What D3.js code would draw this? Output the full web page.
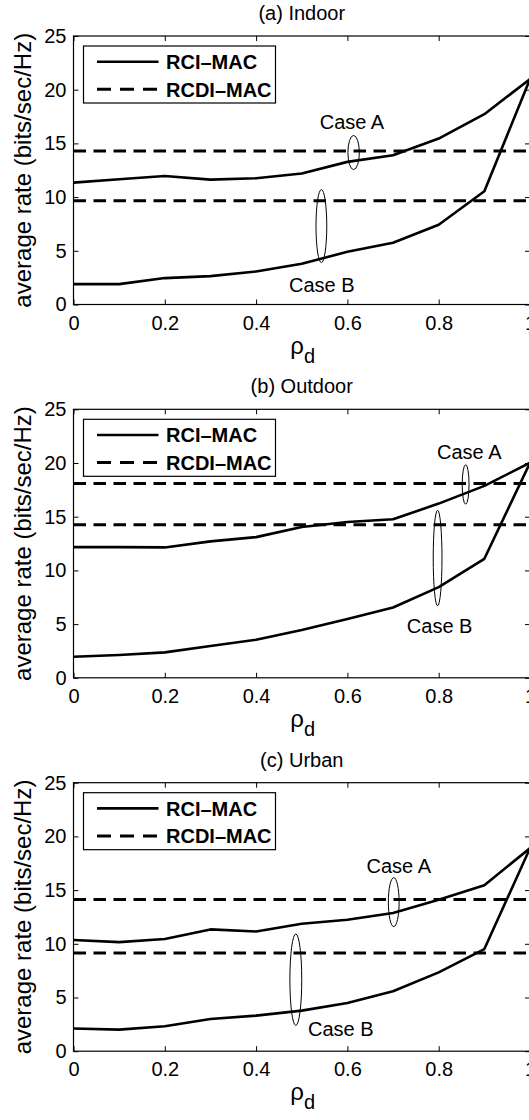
<!DOCTYPE html>
<html>
<head>
<meta charset="utf-8">
<script src="https://cdn.jsdelivr.net/npm/d3@7"></script>
<style>
  html, body { margin: 0; padding: 0; background: #fff; }
  svg { display: block; }
  text { font-family: "Liberation Sans", Arial, sans-serif; fill: #000; }
</style>
</head>
<body>
<div id="chart"></div>
<script>
// ---------------- data ----------------
const rho = [0, 0.1, 0.2, 0.3, 0.4, 0.5, 0.6, 0.7, 0.8, 0.9, 1.0];

const panelTitles = ["(a) Indoor", "(b) Outdoor", "(c) Urban"];

// RCI-MAC (solid), Case A and Case B, per panel
const indoorRciA  = [11.35, 11.66, 11.97, 11.63, 11.75, 12.19, 13.28, 13.90, 15.45, 17.72, 20.99];
const indoorRciB  = [1.90, 1.90, 2.46, 2.64, 3.08, 3.79, 4.91, 5.75, 7.43, 10.54, 20.99];
const outdoorRciA = [12.17, 12.17, 12.14, 12.70, 13.10, 14.04, 14.50, 14.76, 16.22, 17.87, 20.02];
const outdoorRciB = [1.96, 2.12, 2.37, 2.96, 3.55, 4.45, 5.48, 6.54, 8.44, 11.08, 20.02];
const urbanRciA   = [10.35, 10.16, 10.44, 11.34, 11.15, 11.87, 12.24, 12.86, 14.10, 15.46, 18.90];
const urbanRciB   = [2.11, 2.01, 2.32, 3.00, 3.31, 3.78, 4.49, 5.58, 7.34, 9.51, 18.90];

// RCDI-MAC (dashed, constant) Case A and Case B per panel
const indoorRcdi  = [14.30, 9.67];
const outdoorRcdi = [18.09, 14.26];
const urbanRcdi   = [14.13, 9.14];

// annotation ellipses: [x center, y center, x half-width, y half-height] in data units
const indoorEllipses  = [[0.6136, 14.15, 0.0125, 1.59], [0.543, 7.30, 0.0118, 3.40]];
const outdoorEllipses = [[0.859, 18.00, 0.0075, 1.84], [0.7976, 11.15, 0.0096, 4.45]];
const urbanEllipses   = [[0.7015, 13.88, 0.0118, 2.28], [0.487, 6.66, 0.0130, 4.26]];

// annotation labels: [text, x center, y center] in data units
const indoorLabels  = [["Case A", 0.610, 16.95], ["Case B", 0.544, 1.80]];
const outdoorLabels = [["Case A", 0.867, 20.98], ["Case B", 0.802, 4.79]];
const urbanLabels   = [["Case A", 0.7126, 17.29], ["Case B", 0.5855, 2.10]];

const xTickValues = [0, 0.2, 0.4, 0.6, 0.8, 1];
const xTickLabels = ["0", "0.2", "0.4", "0.6", "0.8", "1"];
const yTickValues = [0, 5, 10, 15, 20, 25];
const yTickLabels = ["0", "5", "10", "15", "20", "25"];

const legendNames = ["RCI\u2013MAC", "RCDI\u2013MAC"];
const yAxisLabel = "average rate (bits/sec/Hz)";

// ---------------- layout ----------------
const W = 529, H = 1120;
const panelTops = [36, 409.3, 782.7];
const plotH = 268.5;
const plotL = 73.5, plotR = 530;

const panels = [
  { title: panelTitles[0], a: indoorRciA,  b: indoorRciB,  rcdi: indoorRcdi,  ell: indoorEllipses,  lab: indoorLabels },
  { title: panelTitles[1], a: outdoorRciA, b: outdoorRciB, rcdi: outdoorRcdi, ell: outdoorEllipses, lab: outdoorLabels },
  { title: panelTitles[2], a: urbanRciA,   b: urbanRciB,   rcdi: urbanRcdi,   ell: urbanEllipses,   lab: urbanLabels }
];

const svg = d3.select("#chart").append("svg")
  .attr("width", W).attr("height", H);

const x = d3.scaleLinear().domain([0, 1]).range([plotL, plotR]);

const FONT = 20;
const DASH = "12.5,7.5";

panels.forEach((p, i) => {
  const top = panelTops[i], bottom = top + plotH;
  const y = d3.scaleLinear().domain([0, 25]).range([bottom, top]);
  const g = svg.append("g");

  // title
  g.append("text")
    .attr("x", (plotL + plotR) / 2)
    .attr("y", top - 16)
    .attr("text-anchor", "middle")
    .style("font-size", FONT + "px")
    .text(p.title);

  // clip
  const clipId = "clip" + i;
  svg.append("clipPath").attr("id", clipId)
    .append("rect").attr("x", plotL).attr("y", top).attr("width", plotR - plotL).attr("height", plotH);

  const line = d3.line().x((d, k) => x(rho[k])).y(d => y(d));

  const plotG = g.append("g").attr("clip-path", `url(#${clipId})`);

  // dashed RCDI lines
  p.rcdi.forEach(v => {
    plotG.append("path")
      .attr("d", d3.line()([[x(0), y(v)], [x(1), y(v)]]))
      .attr("fill", "none").attr("stroke", "#000")
      .attr("stroke-width", 3).attr("stroke-dasharray", DASH);
  });

  // solid RCI lines
  [p.a, p.b].forEach(series => {
    plotG.append("path")
      .attr("d", line(series))
      .attr("fill", "none").attr("stroke", "#000")
      .attr("stroke-width", 2.6).attr("stroke-linejoin", "round");
  });

  // ellipses
  p.ell.forEach(e => {
    g.append("ellipse")
      .attr("cx", x(e[0])).attr("cy", y(e[1]))
      .attr("rx", x(e[2]) - x(0)).attr("ry", y(0) - y(e[3]))
      .attr("fill", "none").attr("stroke", "#000").attr("stroke-width", 1);
  });

  // case labels
  p.lab.forEach(l => {
    g.append("text")
      .attr("x", x(l[1])).attr("y", y(l[2]) + 7)
      .attr("text-anchor", "middle")
      .style("font-size", FONT + "px")
      .text(l[0]);
  });

  // axes (inward ticks)
  const axB = d3.axisBottom(x).tickValues(xTickValues)
    .tickFormat((d, k) => xTickLabels[k]).tickSizeInner(-5).tickSizeOuter(0).tickPadding(11);
  const axT = d3.axisTop(x).tickValues(xTickValues).tickFormat("").tickSizeInner(-5).tickSizeOuter(0);
  const axL = d3.axisLeft(y).tickValues(yTickValues)
    .tickFormat((d, k) => yTickLabels[k]).tickSizeInner(-5).tickSizeOuter(0).tickPadding(7);
  const axR = d3.axisRight(y).tickValues(yTickValues).tickFormat("").tickSizeInner(-5).tickSizeOuter(0);

  const gb = g.append("g").attr("transform", `translate(0,${bottom})`).call(axB);
  const gt = g.append("g").attr("transform", `translate(0,${top})`).call(axT);
  const gl = g.append("g").attr("transform", `translate(${plotL},0)`).call(axL);
  const gr = g.append("g").attr("transform", `translate(${plotR},0)`).call(axR);
  [gb, gt, gl, gr].forEach(a => {
    a.select(".domain").remove();
    a.selectAll("line").attr("stroke", "#000").attr("stroke-width", 1);
    a.selectAll("text").style("font-size", FONT + "px")
      .attr("font-family", null).style("font-family", '"Liberation Sans", Arial, sans-serif').attr("fill", "#000");
  });

  // box
  g.append("rect")
    .attr("x", plotL).attr("y", top).attr("width", plotR - plotL).attr("height", plotH)
    .attr("fill", "none").attr("stroke", "#000").attr("stroke-width", 1.2);

  // y label
  g.append("text")
    .attr("transform", `translate(31,${(top + bottom) / 2}) rotate(-90)`)
    .attr("text-anchor", "middle")
    .style("font-size", "24px")
    .text(yAxisLabel);

  // x label rho_d
  const xl = g.append("text")
    .attr("x", (plotL + plotR) / 2 + 1)
    .attr("y", bottom + 49)
    .attr("text-anchor", "middle")
    .style("font-size", "24px");
  xl.append("tspan").text("\u03C1");
  xl.append("tspan").attr("dy", 9).style("font-size", "20px").text("d");

  // legend
  const lx = plotL + 10, ly = top + 10, lw = 192, lh = 57;
  const lg = g.append("g");
  lg.append("rect").attr("x", lx).attr("y", ly).attr("width", lw).attr("height", lh)
    .attr("fill", "#fff").attr("stroke", "#000").attr("stroke-width", 1.2);
  legendNames.forEach((name, k) => {
    const rowY = ly + 15.7 + k * 27.6;
    lg.append("line")
      .attr("x1", lx + 13.5).attr("x2", lx + 75)
      .attr("y1", rowY).attr("y2", rowY)
      .attr("stroke", "#000").attr("stroke-width", k === 0 ? 2.6 : 3)
      .attr("stroke-dasharray", k === 0 ? null : "14,9");
    lg.append("text")
      .attr("x", lx + 82.5).attr("y", rowY + 7.2)
      .style("font-size", "20px").style("font-weight", "bold")
      .text(name);
  });
});
</script>
</body>
</html>
